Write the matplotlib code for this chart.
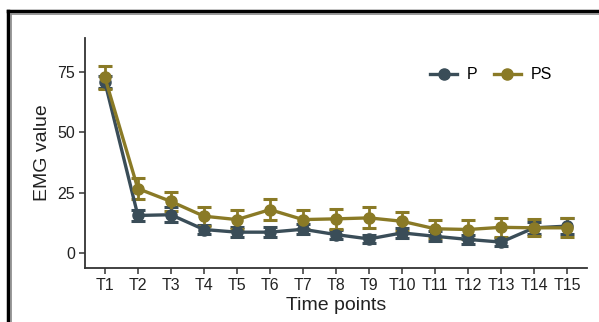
import numpy as np
import matplotlib.pyplot as plt
from matplotlib.lines import Line2D

plt.rcParams['font.family'] = ['Liberation Sans', 'DejaVu Sans']

###Data
time_points = ['T%d' % i for i in range(1, 16)]
p_mean = [71.0, 15.7, 16.0, 9.9, 8.8, 8.8, 10.0, 7.8, 6.0, 8.5, 7.1, 5.8, 4.7, 10.6, 11.3]
p_err = [2.5, 2.2, 3.0, 2.0, 2.0, 2.0, 2.0, 2.0, 1.5, 2.0, 2.0, 2.0, 1.5, 2.5, 3.2]
ps_mean = [72.8, 26.8, 21.5, 15.4, 14.0, 18.1, 14.0, 14.3, 14.7, 13.3, 10.2, 9.9, 10.8, 10.6, 10.6]
ps_err = [4.7, 4.3, 4.0, 4.0, 4.0, 4.3, 3.8, 4.0, 4.3, 4.0, 3.8, 3.8, 3.8, 3.5, 4.0]

p_col = '#3A4D58'
ps_col = '#8A7A26'

fig = plt.figure(figsize=(5.99, 3.22), dpi=100)
ax = fig.add_axes([85/599, 1-268/322, (587-85)/599, (268-38)/322])

x = np.arange(1, len(time_points)+1)
handles = []
for mean, err, col, lab in [(p_mean, p_err, p_col, 'P'), (ps_mean, ps_err, ps_col, 'PS')]:
    ax.errorbar(x, mean, yerr=err, color=col, lw=2.4, marker='o', ms=8,
                capsize=5, capthick=2.2, elinewidth=2.0)
    handles.append(Line2D([], [], color=col, lw=2.4, marker='o', ms=8, label=lab))

ax.set_xlim(0.4, 15.6)
ax.set_ylim(-6, 89)
ax.set_xticks(x)
ax.set_xticklabels(time_points)
ax.set_yticks([0, 25, 50, 75])
ax.tick_params(labelsize=11.5, colors='#333333', length=4, width=1.1, pad=3)
ax.tick_params(labelcolor='#222222')
for s in ['top', 'right']:
    ax.spines[s].set_visible(False)
for s in ['left', 'bottom']:
    ax.spines[s].set_color('#333333')
    ax.spines[s].set_linewidth(1.3)

ax.set_xlabel('Time points', fontsize=14, color='#222222', labelpad=3)
ax.set_ylabel('EMG value', fontsize=14, color='#222222', labelpad=5)

ax.legend(handles=handles, loc='center left', bbox_to_anchor=(0.675, 0.84), ncol=2,
          frameon=False, fontsize=11.5, handlelength=1.7, columnspacing=1.0,
          handletextpad=0.6, borderaxespad=0)

###Double frame around the picture
fig.add_artist(Line2D([7.5/599, 1], [1-10.5/322]*2, color='black', lw=2.5))
fig.add_artist(Line2D([7.5/599]*2, [0, 1-10.5/322], color='black', lw=2.5))
fig.add_artist(Line2D([11/599, 1], [1-13.5/322]*2, color='#888888', lw=1.2))
fig.add_artist(Line2D([11/599]*2, [0, 1-13.5/322], color='#888888', lw=1.2))

fig.savefig('out.png', dpi=100)
